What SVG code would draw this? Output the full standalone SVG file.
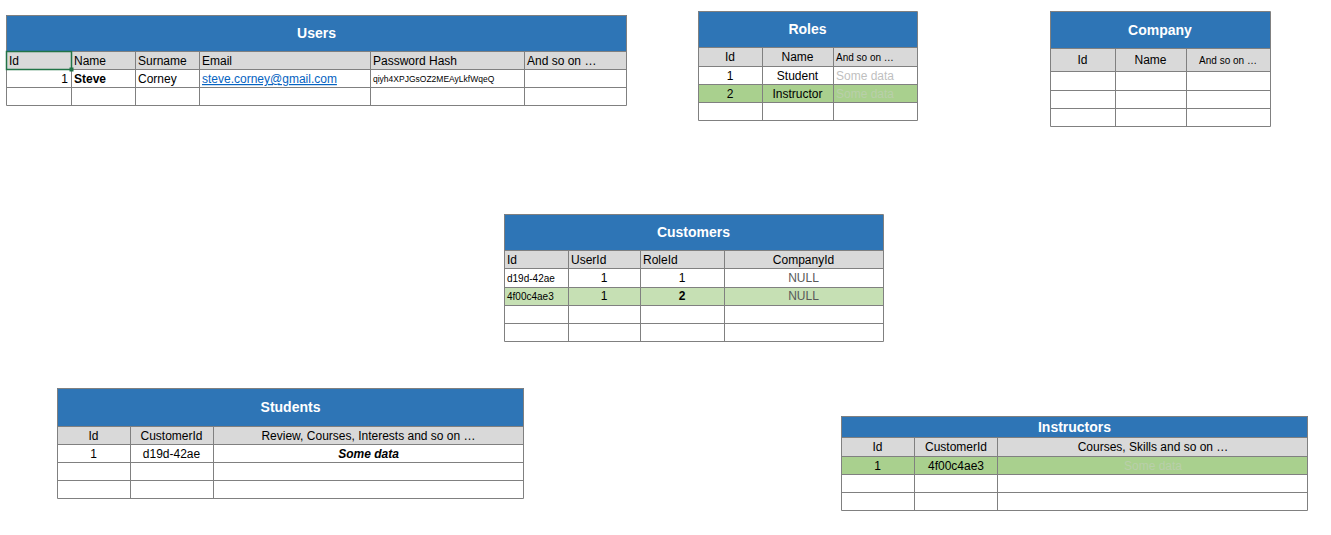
<svg xmlns="http://www.w3.org/2000/svg" width="1331" height="535" viewBox="0 0 1331 535">
<style>
text{font-family:"Liberation Sans",Arial,sans-serif;font-size:12px;fill:#000}
.band{fill:#2E75B6}
.hdr{fill:#D9D9D9}
.cell{fill:#FFFFFF}
.grn{fill:#A9D08E}
.lgrn{fill:#C6E0B4}
.grid{stroke:#808080;stroke-width:1;fill:none}
.title{font-weight:bold;font-size:14px;fill:#FFFFFF;text-anchor:middle}
.c{text-anchor:middle}
.e{text-anchor:end}
.sm{font-size:10px}
.xs{font-size:8.5px}
.faint{fill:#BFBFBF}
.faintg{fill:#B9CFAA}
.link{fill:#0563C1;text-decoration:underline}
.null{fill:#595959}
.b{font-weight:bold}
</style>
<rect width="1331" height="535" fill="#FFFFFF"/>

<g id="users">
<rect class="band" x="6" y="15" width="621" height="36"/>
<rect class="hdr" x="6" y="51" width="621" height="18"/>
<rect class="cell" x="6" y="69" width="621" height="36"/>
<path class="grid" d="M6.5 15.5H626.5V105.5H6.5Z M6.5 51.5H626.5 M6.5 69.5H626.5 M6.5 87.5H626.5 M71.5 51.5V105.5 M135.5 51.5V105.5 M199.5 51.5V105.5 M370.5 51.5V105.5 M524.5 51.5V105.5"/>
<rect x="6.5" y="51.5" width="65" height="18" fill="none" stroke="#217346" stroke-width="1.5"/>
<rect x="69.5" y="67.5" width="4" height="4" fill="#217346"/>
<text class="title" x="316.5" y="38">Users</text>
<text x="9" y="65">Id</text>
<text x="74" y="65">Name</text>
<text x="138" y="65">Surname</text>
<text x="202" y="65">Email</text>
<text x="373" y="65">Password Hash</text>
<text x="527" y="65">And so on …</text>
<text class="e" x="68" y="83">1</text>
<text class="b" x="74" y="83">Steve</text>
<text x="138" y="83">Corney</text>
<text class="link" x="202" y="83">steve.corney@gmail.com</text>
<text class="xs" x="373" y="82">qiyh4XPJGsOZ2MEAyLkfWqeQ</text>
</g>

<g id="roles">
<rect class="band" x="698" y="11" width="219" height="36"/>
<rect class="hdr" x="698" y="47" width="219" height="19"/>
<rect class="cell" x="698" y="66" width="219" height="18"/>
<rect class="grn" x="698" y="84" width="219" height="18"/>
<rect class="cell" x="698" y="102" width="219" height="18"/>
<path class="grid" d="M698.5 11.5H917.5V120.5H698.5Z M698.5 47.5H917.5 M698.5 66.5H917.5 M698.5 84.5H917.5 M698.5 102.5H917.5 M762.5 47.5V120.5 M833.5 47.5V120.5"/>
<text class="title" x="807.5" y="34">Roles</text>
<text class="c" x="730" y="61">Id</text>
<text class="c" x="797.5" y="61">Name</text>
<text class="sm" x="836" y="61">And so on …</text>
<text class="c" x="730" y="80">1</text>
<text class="c" x="797.5" y="80">Student</text>
<text class="faint" x="836" y="80">Some data</text>
<text class="c" x="730" y="98">2</text>
<text class="c" x="797.5" y="98">Instructor</text>
<text class="faintg" x="836" y="98">Some data</text>
</g>

<g id="company">
<rect class="band" x="1050" y="11" width="220" height="37"/>
<rect class="hdr" x="1050" y="48" width="220" height="23"/>
<rect class="cell" x="1050" y="71" width="220" height="56"/>
<path class="grid" d="M1050.5 11.5H1270.5V126.5H1050.5Z M1050.5 48.5H1270.5 M1050.5 71.5H1270.5 M1050.5 90.5H1270.5 M1050.5 108.5H1270.5 M1115.5 48.5V126.5 M1186.5 48.5V126.5"/>
<text class="title" x="1160" y="35">Company</text>
<text class="c" x="1082.5" y="64">Id</text>
<text class="c" x="1150.5" y="64">Name</text>
<text class="c sm" x="1228" y="64">And so on …</text>
</g>

<g id="customers">
<rect class="band" x="504" y="214" width="379" height="36"/>
<rect class="hdr" x="504" y="250" width="379" height="18"/>
<rect class="cell" x="504" y="268" width="379" height="19"/>
<rect class="lgrn" x="504" y="287" width="379" height="18"/>
<rect class="cell" x="504" y="305" width="379" height="37"/>
<path class="grid" d="M504.5 214.5H883.5V341.5H504.5Z M504.5 250.5H883.5 M504.5 268.5H883.5 M504.5 287.5H883.5 M504.5 305.5H883.5 M504.5 323.5H883.5 M568.5 250.5V341.5 M640.5 250.5V341.5 M724.5 250.5V341.5"/>
<text class="title" x="693.5" y="237">Customers</text>
<text x="507" y="264">Id</text>
<text x="571" y="264">UserId</text>
<text x="643" y="264">RoleId</text>
<text class="c" x="803.5" y="264">CompanyId</text>
<text class="sm" x="507" y="282">d19d-42ae</text>
<text class="c" x="604" y="282">1</text>
<text class="c" x="682" y="282">1</text>
<text class="c null" x="803.5" y="282">NULL</text>
<text class="sm" x="507" y="300">4f00c4ae3</text>
<text class="c" x="604" y="300">1</text>
<text class="c b" x="682" y="300">2</text>
<text class="c null" x="803.5" y="300">NULL</text>
</g>

<g id="students">
<rect class="band" x="57" y="388" width="467" height="38"/>
<rect class="hdr" x="57" y="426" width="467" height="18"/>
<rect class="cell" x="57" y="444" width="467" height="54"/>
<path class="grid" d="M57.5 388.5H523.5V498.5H57.5Z M57.5 426.5H523.5 M57.5 444.5H523.5 M57.5 462.5H523.5 M57.5 480.5H523.5 M130.5 426.5V498.5 M213.5 426.5V498.5"/>
<text class="title" x="290.5" y="412">Students</text>
<text class="c" x="93.5" y="440">Id</text>
<text class="c" x="171.5" y="440">CustomerId</text>
<text class="c" x="368.5" y="440">Review, Courses, Interests and so on …</text>
<text class="c" x="93.5" y="458">1</text>
<text class="c" x="171.5" y="458" font-size="13">d19d-42ae</text>
<text class="c b" x="368.5" y="458" font-style="italic">Some data</text>
</g>

<g id="instructors">
<rect class="band" x="841" y="416" width="467" height="21"/>
<rect class="hdr" x="841" y="437" width="467" height="19"/>
<rect class="grn" x="841" y="456" width="467" height="18"/>
<rect class="cell" x="841" y="474" width="467" height="36"/>
<path class="grid" d="M841.5 416.5H1307.5V510.5H841.5Z M841.5 437.5H1307.5 M841.5 456.5H1307.5 M841.5 474.5H1307.5 M841.5 492.5H1307.5 M914.5 437.5V510.5 M997.5 437.5V510.5"/>
<text class="title" x="1074.5" y="432">Instructors</text>
<text class="c" x="877.5" y="451">Id</text>
<text class="c" x="956" y="451">CustomerId</text>
<text class="c" x="1153" y="451">Courses, Skills and so on …</text>
<text class="c" x="877.5" y="470">1</text>
<text class="c" x="956" y="470" font-size="13">4f00c4ae3</text>
<text class="c faintg" x="1153" y="470">Some data</text>
</g>

<g id="connectors"></g>
</svg>
